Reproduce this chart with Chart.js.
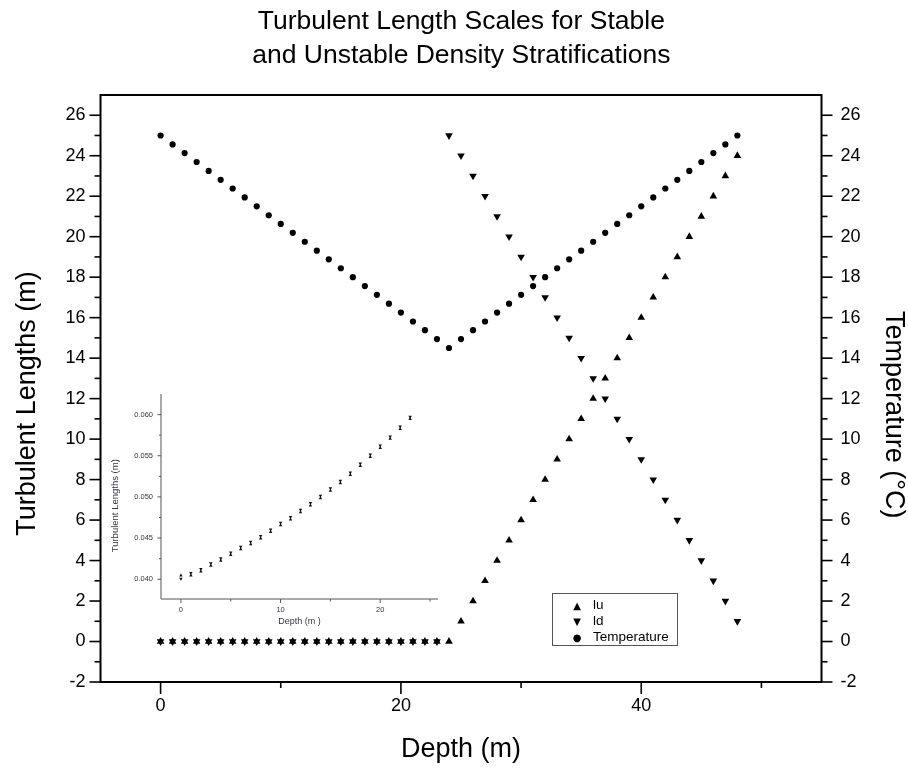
<!DOCTYPE html>
<html>
<head>
<meta charset="utf-8">
<script src="https://cdn.jsdelivr.net/npm/chart.js@4/dist/chart.umd.min.js"></script>
<style>
    body { margin: 0; background: #fff; }
    #wrap { position: relative; width: 908px; height: 768px; }
    #main { position: absolute; left: 0; top: 0; }
    #inset { position: absolute; left: 105px; top: 385px; }
    #legend {
        position: absolute; left: 552px; top: 593px; width: 126px; height: 53px;
        box-sizing: border-box; border: 1px solid #555; padding-top: 3px;
        font: 13.5px "Liberation Sans", Arial, sans-serif; color: #000;
    }
    #legend .row { height: 16px; line-height: 16px; white-space: nowrap; }
    #legend .mk { display: inline-block; width: 16px; margin-left: 16px; margin-right: 8px; text-align: center; font-family: "DejaVu Sans", sans-serif; font-size: 10px; }
</style>
</head>
<body>
<div id="wrap">
    <canvas id="main" width="908" height="768"></canvas>
    <canvas id="inset" width="340" height="245"></canvas>
    <div id="legend"></div>
</div>
<script>
// main plot data
const depth = [0, 1, 2, 3, 4, 5, 6, 7, 8, 9, 10, 11, 12, 13, 14, 15, 16, 17, 18, 19, 20, 21, 22, 23, 24,
    25, 26, 27, 28, 29, 30, 31, 32, 33, 34, 35, 36, 37, 38, 39, 40, 41, 42, 43, 44, 45, 46, 47, 48];
const lu = [0, 0, 0, 0, 0, 0, 0, 0, 0, 0, 0, 0, 0, 0, 0, 0, 0, 0, 0, 0, 0, 0, 0, 0, 0,
    1, 2, 3, 4, 5, 6, 7, 8, 9, 10, 11, 12, 13, 14, 15, 16, 17, 18, 19, 20, 21, 22, 23, 24];
const ld = [0, 0, 0, 0, 0, 0, 0, 0, 0, 0, 0, 0, 0, 0, 0, 0, 0, 0, 0, 0, 0, 0, 0, 0, 25,
    24, 23, 22, 21, 20, 19, 18, 17, 16, 15, 14, 13, 12, 11, 10, 9, 8, 7, 6, 5, 4, 3, 2, 1];
const temperature = [25.00, 24.56, 24.13, 23.69, 23.25, 22.81, 22.38, 21.94, 21.50, 21.06, 20.63, 20.19, 19.75,
    19.31, 18.88, 18.44, 18.00, 17.56, 17.13, 16.69, 16.25, 15.81, 15.38, 14.94, 14.50,
    14.94, 15.38, 15.81, 16.25, 16.69, 17.13, 17.56, 18.00, 18.44, 18.88, 19.31, 19.75,
    20.19, 20.63, 21.06, 21.50, 21.94, 22.38, 22.81, 23.25, 23.69, 24.13, 24.56, 25.00];

const xTicks = [0, 10, 20, 30, 40, 50];
const xLabels = [0, 20, 40];
const yTicks = [-2, -1, 0, 1, 2, 3, 4, 5, 6, 7, 8, 9, 10, 11, 12, 13, 14, 15, 16, 17, 18, 19, 20, 21, 22, 23, 24, 25, 26];
const yLabels = [-2, 0, 2, 4, 6, 8, 10, 12, 14, 16, 18, 20, 22, 24, 26];

const legendLabels = ['lu', 'ld', 'Temperature'];
const legendMarks = ['\u25B2', '\u25BC', '\u25CF'];

// inset data
const insetDepth = [0, 1, 2, 3, 4, 5, 6, 7, 8, 9, 10, 11, 12, 13, 14, 15, 16, 17, 18, 19, 20, 21, 22, 23];
const insetLu = [0.04045, 0.04045, 0.04095, 0.04165, 0.04225, 0.04295, 0.04365, 0.04425, 0.04495, 0.04575, 0.04655, 0.04725,
    0.04815, 0.04895, 0.04985, 0.05075, 0.05165, 0.05265, 0.05375, 0.05485, 0.05595, 0.05705, 0.05825, 0.05945];
const insetLd = [0.04005, 0.04075, 0.04125, 0.04195, 0.04255, 0.04325, 0.04395, 0.04455, 0.04525, 0.04605, 0.04685, 0.04755,
    0.04845, 0.04925, 0.05015, 0.05105, 0.05195, 0.05295, 0.05405, 0.05515, 0.05625, 0.05735, 0.05855, 0.05975];
const insetXTicks = [0, 5, 10, 15, 20, 25];
const insetXLabels = [0, 10, 20];
const insetYTicks = [0.040, 0.0425, 0.045, 0.0475, 0.050, 0.0525, 0.055, 0.0575, 0.060];
const insetYLabels = [0.040, 0.045, 0.050, 0.055, 0.060];

const FONT = '"Liberation Sans", Arial, sans-serif';

function points(xs, ys) {
    return xs.map((x, i) => ({ x: x, y: ys[i] }));
}

// draws the axis lines and the long/short tick marks
function framePlugin(cfg) {
    return {
        id: 'frame',
        afterDraw(chart) {
            const { ctx, chartArea: a } = chart;
            ctx.save();
            ctx.strokeStyle = cfg.color;
            ctx.lineWidth = cfg.lineWidth;
            if (cfg.box) {
                ctx.strokeRect(a.left, a.top, a.right - a.left, a.bottom - a.top);
            } else {
                ctx.beginPath();
                ctx.moveTo(a.left, a.top);
                ctx.lineTo(a.left, a.bottom);
                ctx.lineTo(a.right, a.bottom);
                ctx.stroke();
            }
            ctx.lineWidth = cfg.tickWidth;
            cfg.axes.forEach(ax => {
                const scale = chart.scales[ax.id];
                scale.ticks.forEach(t => {
                    const len = ax.major.includes(t.value) ? ax.long : ax.short;
                    const p = scale.getPixelForValue(t.value);
                    ctx.beginPath();
                    if (ax.side === 'bottom') {
                        ctx.moveTo(p, a.bottom);
                        ctx.lineTo(p, a.bottom + len);
                    } else if (ax.side === 'left') {
                        ctx.moveTo(a.left, p);
                        ctx.lineTo(a.left - len, p);
                    } else {
                        ctx.moveTo(a.right, p);
                        ctx.lineTo(a.right + len, p);
                    }
                    ctx.stroke();
                });
            });
            ctx.restore();
        }
    };
}

function fixedTicks(list) {
    return scale => { scale.ticks = list.map(v => ({ value: v })); };
}

const tickFont = { family: FONT, size: 18 };
const titleFont = { family: FONT, size: 27, lineHeight: 1 };

new Chart(document.getElementById('main'), {
    type: 'scatter',
    data: {
        datasets: [
            {
                label: legendLabels[0],
                data: points(depth, lu),
                pointStyle: 'triangle',
                pointRadius: 4.4,
                backgroundColor: '#000',
                borderColor: '#000',
                borderWidth: 0,
                yAxisID: 'y'
            },
            {
                label: legendLabels[1],
                data: points(depth, ld),
                pointStyle: 'triangle',
                rotation: 180,
                pointRadius: 4.4,
                backgroundColor: '#000',
                borderColor: '#000',
                borderWidth: 0,
                yAxisID: 'y'
            },
            {
                label: legendLabels[2],
                data: points(depth, temperature),
                pointStyle: 'circle',
                pointRadius: 3.1,
                backgroundColor: '#000',
                borderColor: '#000',
                borderWidth: 0,
                yAxisID: 'y2'
            }
        ]
    },
    options: {
        responsive: false,
        animation: false,
        layout: { padding: 0 },
        plugins: {
            legend: { display: false },
            tooltip: { enabled: false },
            title: {
                display: true,
                // leading spaces nudge the lines over the plot centre
                text: ['  Turbulent Length Scales for Stable', '  and Unstable Density Stratifications'],
                color: '#000',
                font: { family: FONT, size: 26.5, weight: 'normal', lineHeight: 34 / 26.5 },
                padding: { top: 5, bottom: 22 }
            }
        },
        scales: {
            x: {
                type: 'linear',
                min: -5,
                max: 55,
                afterBuildTicks: fixedTicks(xTicks),
                afterFit: s => { s.height = 86; },
                grid: { display: false, tickLength: 12 },
                border: { display: false },
                ticks: {
                    padding: 1,
                    color: '#000',
                    font: tickFont,
                    maxRotation: 0,
                    autoSkip: false,
                    callback: v => xLabels.includes(v) ? String(v) : ''
                },
                title: { display: true, text: 'Depth (m)', color: '#000', font: titleFont, padding: { top: 0, bottom: 4.5 } }
            },
            y: {
                type: 'linear',
                position: 'left',
                min: -2,
                max: 27,
                afterBuildTicks: fixedTicks(yTicks),
                afterFit: s => { s.width = 100.5; },
                grid: { display: false, tickLength: 11 },
                border: { display: false },
                ticks: {
                    padding: 4,
                    color: '#000',
                    font: tickFont,
                    autoSkip: false,
                    callback: v => yLabels.includes(v) ? String(v) : ''
                },
                title: { display: true, text: 'Turbulent Lengths (m)    ', color: '#000', font: titleFont, padding: { top: 14, bottom: 0 } }
            },
            y2: {
                type: 'linear',
                position: 'right',
                min: -2,
                max: 27,
                afterBuildTicks: fixedTicks(yTicks),
                afterFit: s => { s.width = 86.5; },
                grid: { display: false, tickLength: 11 },
                border: { display: false },
                ticks: {
                    padding: 8,
                    color: '#000',
                    font: tickFont,
                    autoSkip: false,
                    callback: v => yLabels.includes(v) ? String(v) : ''
                },
                title: { display: true, text: '       Temperature (\u00B0C)', color: '#000', font: titleFont, padding: { top: 1.5, bottom: 0 } }
            }
        }
    },
    plugins: [framePlugin({
        box: true, color: '#000', lineWidth: 2, tickWidth: 1.6,
        axes: [
            { id: 'x', side: 'bottom', major: xLabels, long: 12, short: 6 },
            { id: 'y', side: 'left', major: yLabels, long: 11, short: 6 },
            { id: 'y2', side: 'right', major: yLabels, long: 11, short: 6 }
        ]
    })]
});

// inset chart
const insetTick = { family: FONT, size: 7.5 };
const insetTitle = { family: FONT, size: 9 };
const insetInk = '#333344';

new Chart(document.getElementById('inset'), {
    type: 'scatter',
    data: {
        datasets: [
            {
                label: 'lu',
                data: points(insetDepth, insetLu),
                pointStyle: 'triangle',
                pointRadius: 2,
                backgroundColor: '#111',
                borderColor: '#111',
                borderWidth: 0
            },
            {
                label: 'ld',
                data: points(insetDepth, insetLd),
                pointStyle: 'triangle',
                rotation: 180,
                pointRadius: 2,
                backgroundColor: '#111',
                borderColor: '#111',
                borderWidth: 0
            }
        ]
    },
    options: {
        responsive: false,
        animation: false,
        layout: { padding: { top: 9, right: 7, left: 0, bottom: 0 } },
        plugins: { legend: { display: false }, tooltip: { enabled: false } },
        scales: {
            x: {
                type: 'linear',
                min: -2,
                max: 25.8,
                afterBuildTicks: fixedTicks(insetXTicks),
                afterFit: s => { s.height = 31; },
                grid: { display: false, tickLength: 4 },
                border: { display: false },
                ticks: {
                    padding: 2.5,
                    color: insetInk,
                    font: insetTick,
                    maxRotation: 0,
                    autoSkip: false,
                    callback: v => insetXLabels.includes(v) ? String(v) : ''
                },
                title: { display: true, text: 'Depth (m )', color: insetInk, font: insetTitle, padding: { top: 0, bottom: 2.6 } }
            },
            y: {
                type: 'linear',
                min: 0.0376,
                max: 0.0625,
                afterBuildTicks: fixedTicks(insetYTicks),
                afterFit: s => { s.width = 56; },
                grid: { display: false, tickLength: 3.5 },
                border: { display: false },
                ticks: {
                    padding: 4.5,
                    color: insetInk,
                    font: insetTick,
                    autoSkip: false,
                    callback: v => insetYLabels.includes(v) ? v.toFixed(3) : ''
                },
                title: { display: true, text: 'Turbulent Lengths (m)       ', color: insetInk, font: { family: FONT, size: 9.5 }, padding: { top: 4.5, bottom: 0 } }
            }
        }
    },
    plugins: [framePlugin({
        box: false, color: '#555', lineWidth: 1, tickWidth: 1,
        axes: [
            { id: 'x', side: 'bottom', major: insetXLabels, long: 4, short: 2.5 },
            { id: 'y', side: 'left', major: insetYLabels, long: 3.5, short: 2 }
        ]
    })]
});

// legend box inside the plot
const legendEl = document.getElementById('legend');
legendLabels.forEach((name, i) => {
    const row = document.createElement('div');
    row.className = 'row';
    row.innerHTML = `<span class="mk">${legendMarks[i]}</span>${name}`;
    legendEl.appendChild(row);
});
</script>
</body>
</html>
